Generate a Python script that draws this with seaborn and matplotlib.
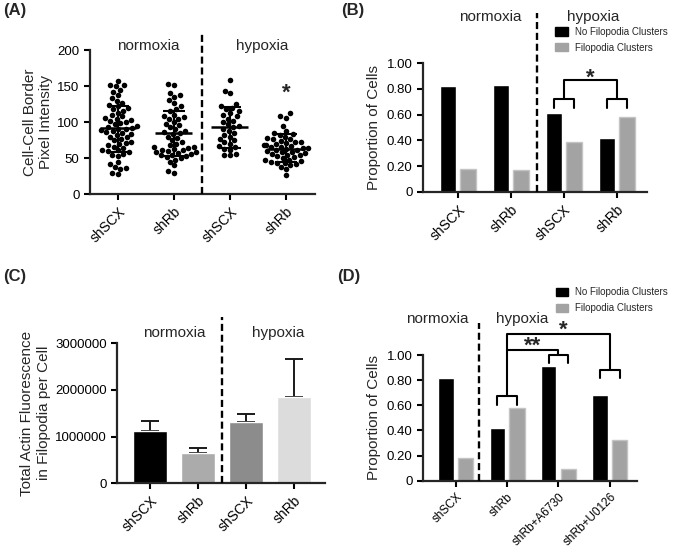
import numpy as np
import pandas as pd
import matplotlib.pyplot as plt
import seaborn as sns
from matplotlib.patches import Patch

# --- dados ---
# (A) intensidade na borda célula-célula
grupos_a = ["n_shSCX", "n_shRb", "h_shSCX", "h_shRb"]
rotulos_a = ["shSCX", "shRb", "shSCX", "shRb"]
pontos_n_shscx = [157, 152, 151, 150, 145, 142, 138, 134, 130, 127, 124, 122, 120, 118, 116,
                  113, 110, 108, 106, 105, 103, 101, 100, 99, 97, 95, 93, 92, 91, 90, 89, 88,
                  86, 85, 84, 82, 80, 79, 77, 75, 73, 71, 70, 68, 66, 64, 62, 61, 60, 58, 56,
                  55, 53, 45, 42, 38, 36, 35, 30, 28]
pontos_n_shrb = [153, 152, 140, 137, 135, 131, 127, 122, 118, 116, 110, 108, 107, 105, 104,
                 100, 98, 96, 93, 90, 88, 86, 85, 83, 80, 78, 75, 72, 70, 68, 66, 65, 64, 63,
                 62, 61, 60, 59, 58, 57, 56, 55, 54, 53, 52, 50, 48, 45, 40, 32, 30]
pontos_h_shscx = [158, 143, 140, 125, 122, 120, 118, 115, 112, 110, 108, 105, 102, 100, 97,
                  95, 93, 90, 88, 85, 82, 80, 77, 75, 72, 70, 67, 65, 63, 62, 56, 55, 54]
pontos_h_shrb = [112, 108, 106, 95, 88, 85, 83, 82, 80, 78, 77, 76, 74, 73, 72, 71, 70, 69,
                 68, 67, 66, 65, 64, 64, 63, 62, 61, 60, 59, 58, 57, 56, 55, 54, 53, 52, 50,
                 48, 47, 46, 45, 44, 43, 42, 40, 38, 35, 27]
media_a = [91.5, 84.5, 93.3, 62.8]
dp_baixo_a = [59, 53, 64.6, 44.3]
dp_alto_a = [122.4, 115.5, 120.6, 83]

# (B) proporção de células
rotulos_b = ["shSCX", "shRb", "shSCX", "shRb"]
sem_cluster_b = [0.82, 0.83, 0.61, 0.42]
com_cluster_b = [0.18, 0.17, 0.39, 0.58]

# (C) fluorescência total de actina
rotulos_c = ["shSCX", "shRb", "shSCX", "shRb"]
media_c = [1127000, 643000, 1320000, 1843000]
erro_c = [215000, 120000, 165000, 821000]
ticks_c = [0, 1000000, 2000000, 3000000]
ticks_c_txt = ["0", "1000000", "2000000", "3000000"]
cores_c = ["#000000", "#ababab", "#8c8c8c", "#dcdcdc"]

# (D) proporção de células com inibidores
rotulos_d = ["shSCX", "shRb", "shRb+A6730", "shRb+U0126"]
sem_cluster_d = [0.82, 0.42, 0.91, 0.68]
com_cluster_d = [0.18, 0.58, 0.09, 0.32]

series = ["No Filopodia Clusters", "Filopodia Clusters"]
cores_bar = ["#000000", "#a3a3a3"]

W, H = 675, 548
sns.set_style("ticks")
plt.rcParams['font.family'] = ['Liberation Sans', 'DejaVu Sans']
fig = plt.figure(figsize=(W / 100, H / 100), dpi=100)


def eixo_px(x0, y0, x1, y1):
    return fig.add_axes([x0 / W, 1 - y1 / H, (x1 - x0) / W, (y1 - y0) / H])


def estilo(ax, xlabels, xsize=10, ysize=9.5):
    sns.despine(ax=ax)
    for s in ["left", "bottom"]:
        ax.spines[s].set_linewidth(1.6)
    ax.tick_params(direction="out", length=4, width=1.5, colors="black")
    ax.tick_params(axis="y", labelsize=ysize)
    ax.set_xticks(range(len(xlabels)))
    ax.set_xticklabels(xlabels, rotation=45, ha="right", rotation_mode="anchor", fontsize=xsize)
    ax.set_xlabel("")


def tracejado(ax, x, ytop):
    ax.plot([x, x], [0, ytop], ls=(0, (3, 1.6)), color="black", lw=1.7, clip_on=False, zorder=5)


def legenda(ax, x, y):
    hs = [Patch(facecolor=c, edgecolor=c) for c in cores_bar]
    ax.legend(hs, series, loc="upper left", bbox_to_anchor=(x, y), frameon=False,
              fontsize=7, handlelength=1.3, handleheight=0.9, borderpad=0,
              borderaxespad=0, labelspacing=0.6, handletextpad=0.7)


def barras_agrupadas(ax, cats, a, b):
    df = pd.DataFrame({
        "cat": list(range(len(cats))) * 2,
        "valor": a + b,
        "tipo": [series[0]] * len(cats) + [series[1]] * len(cats),
    })
    sns.barplot(data=df, x="cat", y="valor", hue="tipo", palette=cores_bar, width=0.76,
                gap=0.22, errorbar=None, legend=False, ax=ax, saturation=1)
    for p in ax.patches[len(cats):]:
        p.set_edgecolor("#c4c4c4")
        p.set_linewidth(1)


def colchete(ax, xc, ybase, ytopo, d=0.19):
    ax.plot([xc - d, xc - d, xc + d, xc + d], [ybase, ytopo, ytopo, ybase],
            color="black", lw=1.5, clip_on=False)


def estrela(ax, x, y, s):
    ax.text(x, y, s, ha="center", va="center", fontsize=16, fontweight="bold")


# ---------- (A) ----------
axA = eixo_px(90, 50, 315, 194.3)
dfA = pd.DataFrame({
    "grupo": (["n_shSCX"] * len(pontos_n_shscx) + ["n_shRb"] * len(pontos_n_shrb)
              + ["h_shSCX"] * len(pontos_h_shscx) + ["h_shRb"] * len(pontos_h_shrb)),
    "valor": pontos_n_shscx + pontos_n_shrb + pontos_h_shscx + pontos_h_shrb,
})
sns.swarmplot(data=dfA, x="grupo", y="valor", order=grupos_a, color="black", size=4, ax=axA)
for i in range(4):
    axA.hlines(media_a[i], i - 0.33, i + 0.33, color="black", lw=1.8, zorder=4)
    axA.vlines(i, dp_baixo_a[i], dp_alto_a[i], color="black", lw=1.5, zorder=4)
    axA.hlines([dp_baixo_a[i], dp_alto_a[i]], i - 0.2, i + 0.2, color="black", lw=1.5, zorder=4)
axA.set_xlim(-0.5, 3.52)
axA.set_ylim(0, 200)
axA.set_yticks([0, 50, 100, 150, 200])
axA.set_ylabel("Cell-Cell Border\nPixel Intensity", fontsize=11, labelpad=3)
estilo(axA, rotulos_a)
tracejado(axA, 1.5, 224)
axA.text(0.55, 205, "normoxia", ha="center", va="center", fontsize=11)
axA.text(2.57, 205, "hypoxia", ha="center", va="center", fontsize=11)
estrela(axA, 3.0, 140, "*")

# ---------- (B) ----------
axB = eixo_px(423, 63, 647, 192)
barras_agrupadas(axB, rotulos_b, sem_cluster_b, com_cluster_b)
axB.set_xlim(-0.66, 3.57)
axB.set_ylim(0, 1.0)
axB.set_yticks([0, 0.2, 0.4, 0.6, 0.8, 1.0])
axB.set_yticklabels(["0", "0.20", "0.40", "0.60", "0.80", "1.00"])
axB.set_ylabel("Proportion of Cells", fontsize=11, labelpad=4)
estilo(axB, rotulos_b)
tracejado(axB, 1.5, 1.39)
axB.text(0.62, 1.36, "normoxia", ha="center", va="center", fontsize=11)
axB.text(2.55, 1.36, "hypoxia", ha="center", va="center", fontsize=11)
legenda(axB, 0.59, 1.28)
colchete(axB, 2, 0.65, 0.718)
colchete(axB, 3, 0.65, 0.718)
axB.plot([2, 2, 3, 3], [0.718, 0.868, 0.868, 0.718], color="black", lw=1.5, clip_on=False)
estrela(axB, 2.5, 0.88, "*")

# ---------- (C) ----------
axC = eixo_px(117, 343.3, 325, 483.3)
sns.barplot(x=list(range(4)), y=media_c, hue=list(range(4)), palette=cores_c, width=0.71,
            legend=False, ax=axC, saturation=1)
axC.errorbar(range(4), media_c, yerr=[[0] * 4, erro_c], fmt="none", ecolor="#1a1a1a",
             elinewidth=1.4, capsize=6.5, capthick=1.4, zorder=1)
for p in axC.patches:
    p.set_zorder(2)
axC.set_xlim(-0.69, 3.65)
axC.set_ylim(0, 3000000)
axC.set_yticks(ticks_c)
axC.set_yticklabels(ticks_c_txt)
axC.set_ylabel("Total Actin Fluorescence\nin Filopodia per Cell", fontsize=11, labelpad=3)
estilo(axC, rotulos_c, ysize=9.5)
tracejado(axC, 1.5, 3570000)
axC.text(0.5, 3220000, "normoxia", ha="center", va="center", fontsize=11)
axC.text(2.67, 3220000, "hypoxia", ha="center", va="center", fontsize=11)

# ---------- (D) ----------
axD = eixo_px(423, 355, 637, 480.7)
barras_agrupadas(axD, rotulos_d, sem_cluster_d, com_cluster_d)
axD.set_xlim(-0.64, 3.53)
axD.set_ylim(0, 1.0)
axD.set_yticks([0, 0.2, 0.4, 0.6, 0.8, 1.0])
axD.set_yticklabels(["0", "0.20", "0.40", "0.60", "0.80", "1.00"])
axD.set_ylabel("Proportion of Cells", fontsize=11, labelpad=4)
estilo(axD, rotulos_d, xsize=8.5)
tracejado(axD, 0.45, 1.255)
axD.text(-0.36, 1.29, "normoxia", ha="center", va="center", fontsize=11)
axD.text(1.3, 1.29, "hypoxia", ha="center", va="center", fontsize=11)
legenda(axD, 0.62, 1.54)
colchete(axD, 1, 0.60, 0.676)
colchete(axD, 2, 0.94, 1.0)
colchete(axD, 3, 0.82, 0.88)
axD.plot([1, 1, 2, 2], [0.676, 1.04, 1.04, 1.0], color="black", lw=1.5, clip_on=False)
axD.plot([1, 1, 3, 3], [1.04, 1.165, 1.165, 0.88], color="black", lw=1.5, clip_on=False)
estrela(axD, 1.5, 1.07, "**")
estrela(axD, 2.1, 1.2, "*")

# rótulos dos painéis
for lbl, x, y in [("(A)", 3, 10), ("(B)", 341, 10), ("(C)", 3, 276), ("(D)", 337, 276)]:
    fig.text(x / W, 1 - y / H, lbl, fontsize=12, fontweight="bold", va="center")

fig.savefig("out.png", dpi=100)
